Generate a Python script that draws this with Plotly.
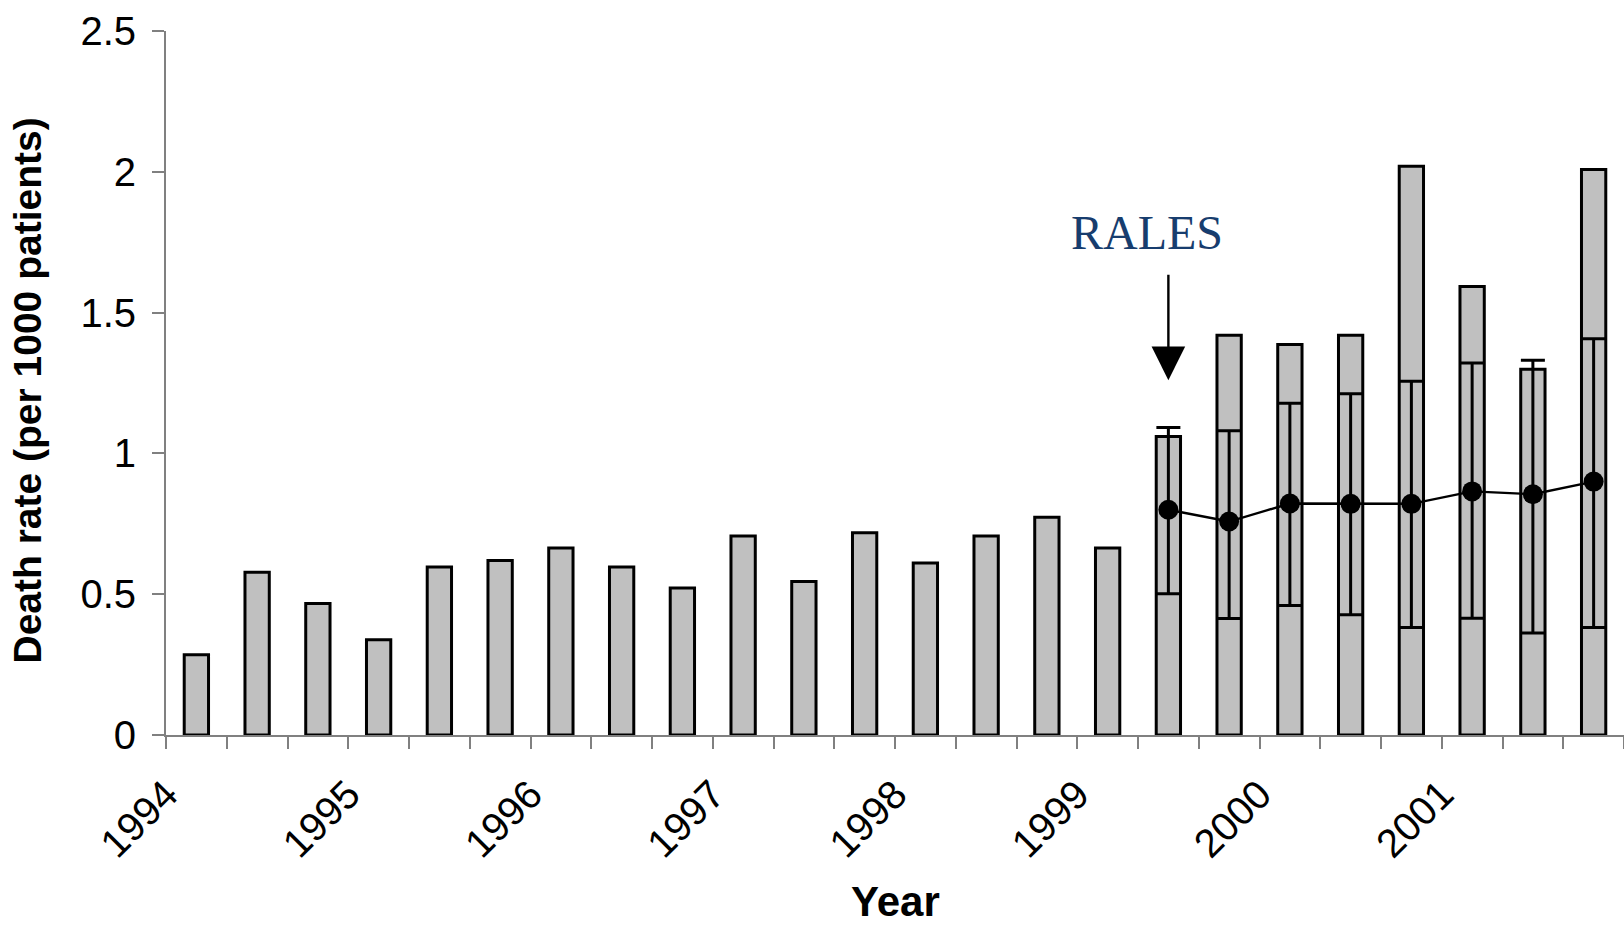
import plotly.graph_objects as go

# Death rate per 1000 patients, three periods per calendar year
years = [1994, 1995, 1996, 1997, 1998, 1999, 2000, 2001]
periods_per_year = 3
death_rate = [0.285, 0.578, 0.467, 0.338, 0.597, 0.620, 0.664, 0.597,
              0.522, 0.707, 0.545, 0.718, 0.611, 0.707, 0.773, 0.664,
              1.060, 1.420, 1.387, 1.420, 2.020, 1.593, 1.299, 2.008]

# Expected rate with confidence limits from the RALES period onward
first_expected = 16
expected_rate = [0.800, 0.758, 0.822, 0.821, 0.821, 0.865, 0.855, 0.900]
expected_upper = [1.092, 1.080, 1.178, 1.212, 1.256, 1.321, 1.331, 1.407]
expected_lower = [0.502, 0.414, 0.460, 0.427, 0.382, 0.415, 0.362, 0.382]

FONT = "Liberation Sans, Arial, sans-serif"
AXIS_GREY = "#808080"

n = len(death_rate)
x_bar = [i + 0.5 for i in range(n)]
x_exp = x_bar[first_expected:first_expected + len(expected_rate)]
err_plus = [u - m for u, m in zip(expected_upper, expected_rate)]
err_minus = [m - l for l, m in zip(expected_lower, expected_rate)]

tick_pos = list(range(n + 1))
tick_txt = [str(years[i // periods_per_year]) if i % periods_per_year == 0 and i // periods_per_year < len(years) else ""
            for i in tick_pos]
y_ticks = [0, 0.5, 1, 1.5, 2, 2.5]

fig = go.Figure()
fig.add_trace(go.Bar(
    x=x_bar, y=death_rate, width=0.4,
    marker=dict(color="#C0C0C0", line=dict(color="black", width=3)),
    showlegend=False, hoverinfo="y",
))
fig.add_trace(go.Scatter(
    x=x_exp, y=expected_rate, mode="lines+markers",
    line=dict(color="black", width=2.4),
    marker=dict(color="black", size=20),
    error_y=dict(type="data", symmetric=False, array=err_plus, arrayminus=err_minus,
                 color="black", thickness=3, width=12),
    showlegend=False,
))

axis_common = dict(showgrid=False, zeroline=False)
fig.update_layout(
    width=1624, height=927,
    margin=dict(l=166, r=0, t=31, b=192),
    plot_bgcolor="white", paper_bgcolor="white",
    font=dict(family=FONT, color="black"),
    xaxis=dict(range=[0, n], tickmode="array", tickvals=tick_pos, ticktext=tick_txt,
               tickangle=-45, ticks="outside", ticklen=12, tickwidth=1.5, tickcolor=AXIS_GREY,
               showline=True, linecolor=AXIS_GREY, linewidth=2,
               tickfont=dict(size=40, family=FONT), ticklabelstandoff=6,
               **axis_common),
    xaxis2=dict(range=[0, n], overlaying="x", anchor="y", side="bottom",
                tickmode="array", tickvals=tick_pos, ticks="inside", ticklen=12, tickwidth=1.5,
                tickcolor=AXIS_GREY, showticklabels=False, showline=False, **axis_common),
    yaxis=dict(range=[0, 2.5], tickmode="array", tickvals=y_ticks,
               ticks="outside", ticklen=12, tickwidth=1.5, tickcolor=AXIS_GREY,
               showline=True, linecolor=AXIS_GREY, linewidth=2,
               tickfont=dict(size=40, family=FONT), ticklabelstandoff=8,
               **axis_common),
    yaxis2=dict(range=[0, 2.5], overlaying="y", anchor="x", side="left",
                tickmode="array", tickvals=y_ticks, ticks="inside", ticklen=12,
                tickwidth=1.5, tickcolor=AXIS_GREY, showticklabels=False, showline=False,
                **axis_common),
)

# Axis titles
fig.add_annotation(xref="paper", yref="paper", x=0.5, y=-0.237, text="<b>Year</b>",
                   showarrow=False, xanchor="center", yanchor="middle",
                   font=dict(size=42, family=FONT, color="black"))
fig.add_annotation(xref="paper", yref="paper", x=-0.095, y=0.49,
                   text="<b>Death rate (per 1000 patients)</b>", textangle=-90,
                   showarrow=False, xanchor="center", yanchor="middle",
                   font=dict(size=39, family=FONT, color="black"))

# RALES marker: label above an arrow pointing down at the first RALES period
rales_x = x_bar[first_expected]
fig.add_annotation(x=rales_x, y=1.26, ax=rales_x, ay=1.64, axref="x", ayref="y",
                   text="", showarrow=True, arrowhead=2, arrowsize=2.8, arrowwidth=2.4,
                   arrowcolor="black")
fig.add_annotation(x=rales_x, y=1.785, xshift=-21, text="RALES", showarrow=False,
                   font=dict(family="Liberation Serif, Times New Roman, serif", size=48,
                             color="#173D6E"))

fig.write_html("out.html")
